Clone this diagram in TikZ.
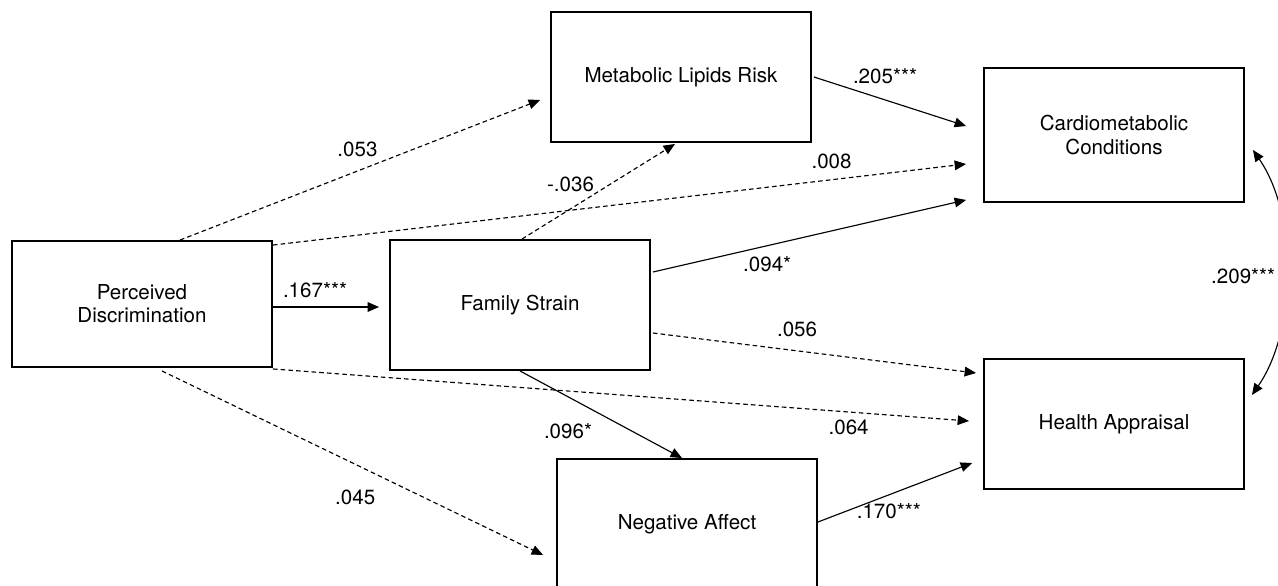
\documentclass[tikz,border=0pt]{standalone}
\usepackage{fontspec}
\setmainfont{TeX Gyre Heros}
\usetikzlibrary{arrows.meta}

\begin{document}
\begin{tikzpicture}[
  x=0.02cm, y=-0.02cm,
  varbox/.style={rectangle, draw=black, line width=1.1pt, fill=white, minimum width=5.2cm, minimum height=2.6cm, align=center, font=\fontsize{11.7}{13.2}\selectfont},
  effect/.style={-{Triangle[length=6.5pt, width=5.5pt]}, line width=0.65pt},
  nseffect/.style={effect, dash pattern=on 2.6pt off 1.8pt},
  covar/.style={{Triangle[length=6.5pt, width=5.5pt]}-{Triangle[length=6.5pt, width=5.5pt]}, line width=0.65pt},
  coef/.style={font=\fontsize{11.7}{13.2}\selectfont, inner sep=1pt}
]
  \useasboundingbox (0,0) rectangle (1278,585);

  % Variables
  \node[varbox, minimum height=2.52cm] (discr) at (142,304) {Perceived\\Discrimination};
  \node[varbox] (strain) at (520,305) {Family Strain};
  \node[varbox] (lipids) at (681,77) {Metabolic Lipids Risk};
  \node[varbox] (affect) at (687,524) {Negative Affect};
  \node[varbox, minimum height=2.68cm] (cardio) at (1114,135) {Cardiometabolic\\Conditions};
  \node[varbox] (appraisal) at (1114,424) {Health Appraisal};

  % Paths from perceived discrimination
  \draw[nseffect] ([shift={(38,0)}]discr.north) -- ([shift={(-10,23)}]lipids.west)
    node[coef, pos=.49, shift={(1,-22)}] {.053};
  \draw[nseffect] ([shift={(0,5)}]discr.north east) -- ([shift={(-17,29)}]cardio.west)
    node[coef, pos=.806, shift={(0,-18)}] {.008};
  \draw[effect] ([shift={(0,3)}]discr.east) -- ([shift={(-10,2)}]strain.west)
    node[coef, pos=.5, shift={(-11,-17)}] {.167***};
  \draw[nseffect] ([shift={(0,1)}]discr.south east) -- ([shift={(-14,-3)}]appraisal.west)
    node[coef, pos=.827, shift={(0,15)}] {.064};
  \draw[nseffect] ([shift={(20,3)}]discr.south) -- ([shift={(-13,31)}]affect.west)
    node[coef, pos=.507, shift={(0,33)}] {.045};

  % Paths from family strain
  \draw[nseffect] ([shift={(2,0)}]strain.north) -- ([shift={(-6,1)}]lipids.south)
    node[coef, pos=.5, shift={(-28,-7)}] {-.036};
  \draw[effect] ([shift={(2,-33)}]strain.east) -- ([shift={(-17,-3)}]cardio.south west)
    node[coef, pos=.365, shift={(0,18)}] {.094*};
  \draw[nseffect] ([shift={(2,28)}]strain.east) -- ([shift={(-7,-51)}]appraisal.west)
    node[coef, pos=.446, shift={(0,-21)}] {.056};
  \draw[effect] (strain.south) -- ([shift={(-5,0)}]affect.north)
    node[coef, pos=.5, shift={(-33,17)}] {.096*};

  % Paths from mediators to outcomes
  \draw[effect] ([shift={(2,0)}]lipids.east) -- ([shift={(-17,-9)}]cardio.west)
    node[coef, pos=.5, shift={(-5,-25)}] {.205***};
  \draw[effect] ([shift={(0,-2)}]affect.east) -- ([shift={(-11,39)}]appraisal.west)
    node[coef, pos=.46, shift={(0,16)}] {.170***};

  % Outcome covariance
  \draw[covar] ([shift={(8,15)}]cardio.east) .. controls +(45,65) and +(45,-65) .. ([shift={(7,-29)}]appraisal.east)
    node[coef, pos=.5, shift={(-43,4)}] {.209***};
\end{tikzpicture}
\end{document}
